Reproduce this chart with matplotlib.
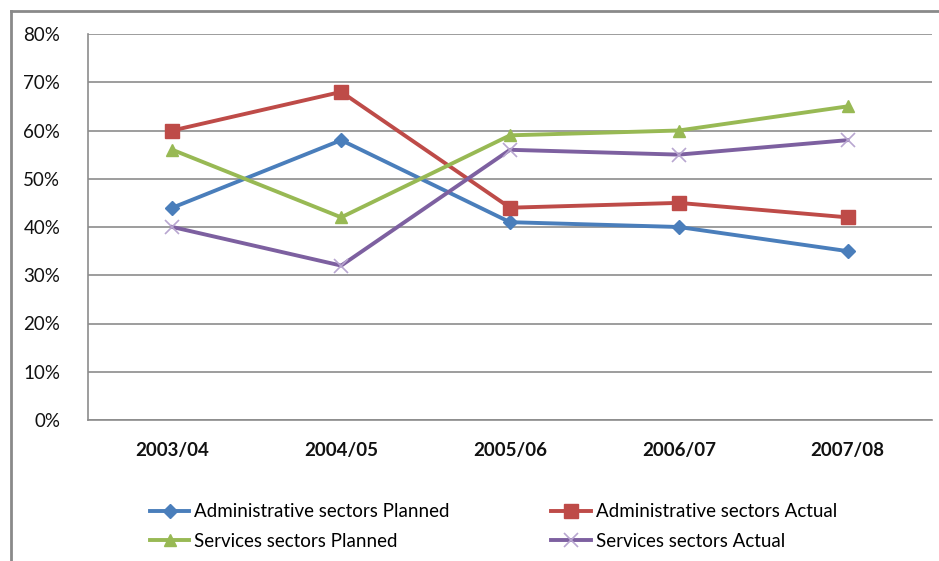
import matplotlib
matplotlib.use("Agg")
import matplotlib.pyplot as plt
from matplotlib.lines import Line2D

categories = ["2003/04", "2004/05", "2005/06", "2006/07", "2007/08"]
admin_planned = [44, 58, 41, 40, 35]
admin_actual = [60, 68, 44, 45, 42]
services_planned = [56, 42, 59, 60, 65]
services_actual = [40, 32, 56, 55, 58]
series_names = ["Administrative sectors Planned", "Administrative sectors Actual",
                "Services sectors Planned", "Services sectors Actual"]
y_ticks = [0, 10, 20, 30, 40, 50, 60, 70, 80]

plt.rcParams['font.family'] = ['Lato', 'DejaVu Sans']

W, H = 939, 561
fig = plt.figure(figsize=(W / 100, H / 100), dpi=100)
ax = fig.add_axes([88 / W, (H - 420) / H, (932 - 88) / W, (420 - 34) / H])

colors = ["#4A7EBB", "#BE4B48", "#98B954", "#7D60A0"]
markers = ["D", "s", "^", "x"]
msizes = [7, 10, 9, 10]
data = [admin_planned, admin_actual, services_planned, services_actual]
x = list(range(len(categories)))

for vals, c, m, ms, name in zip(data, colors, markers, msizes, series_names):
    kw = dict(color=c, lw=2.8, marker=m, markersize=ms, label=name, zorder=3)
    if m == "x":
        kw.update(markeredgecolor="#B8A6D0", markeredgewidth=1.2)
    ax.plot(x, vals, **kw)

ax.set_xlim(-0.5, len(categories) - 0.5)
ax.set_ylim(0, 80)
ax.set_yticks(y_ticks)
ax.set_yticklabels([f"{v}%" for v in y_ticks], fontsize=13.5, color="#111111")
ax.set_xticks(x)
ax.set_xticklabels(categories, fontsize=13.5, fontweight="bold", color="#111111")
ax.tick_params(axis="both", length=0)
ax.tick_params(axis="y", pad=20)
ax.tick_params(axis="x", pad=16)
ax.yaxis.grid(True, color="#8C8C8C", lw=1.2)
ax.set_axisbelow(True)
for s in ["top", "right"]:
    ax.spines[s].set_visible(False)
ax.spines["left"].set_color("#8C8C8C")
ax.spines["bottom"].set_color("#8C8C8C")
ax.spines["left"].set_linewidth(1.2)
ax.spines["bottom"].set_linewidth(1.2)

handles, labels = ax.get_legend_handles_labels()
order = [0, 2, 1, 3]
leg = fig.legend([handles[i] for i in order], [labels[i] for i in order],
                 ncol=2, loc="center left", bbox_to_anchor=(150 / W, (H - 526.5) / H),
                 frameon=False, fontsize=13.5, handlelength=2.1, handletextpad=0.27,
                 columnspacing=5.4, labelspacing=0.65, borderpad=0, borderaxespad=0)

# outer chart frame (left and top edges visible)
fig.add_artist(Line2D([11 / W, 11 / W], [0, (H - 11) / H], color="#8A8A8A", lw=2,
                      transform=fig.transFigure))
fig.add_artist(Line2D([11 / W, 1], [(H - 11) / H, (H - 11) / H], color="#8A8A8A", lw=2,
                      transform=fig.transFigure))

fig.savefig("out.png", dpi=100, facecolor="white")
